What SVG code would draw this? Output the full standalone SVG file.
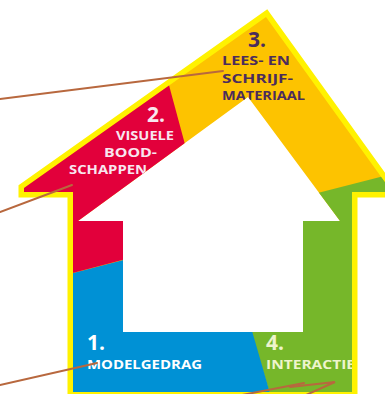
<svg xmlns="http://www.w3.org/2000/svg" width="385" height="394" viewBox="0 0 385 394">
<style>
.lbl{font-family:"Open Sans","Liberation Sans",sans-serif;font-weight:bold;}
.num{font-size:21px;}
.cap{font-size:13px;}
.dark{fill:#4B2C5C;}
.wt{fill:#FFFFFF;}
.pk{fill:#F8E6EF;}
.gy{fill:#EEF4CC;}
.con{stroke:#B8683E;stroke-width:2;fill:none;stroke-linecap:round;}
</style>
<defs>
<clipPath id="house" clip-rule="evenodd">
<path clip-rule="evenodd" d="M266,17 L392,192 L352,192 L352,392 L73,392 L73,192 L24,192 L24,188 Z M248,97 L78,221 L123,221 L123,332 L303,332 L303,221 L340,221 Z"/>
</clipPath>
</defs>
<rect width="385" height="394" fill="#FFFFFF"/>
<g id="border">
<path d="M266,17 L392,192 L352,192 L352,392 L73,392 L73,192 L24,192 L24,188 Z" fill="none" stroke="#FFF200" stroke-width="11" stroke-linejoin="miter" stroke-miterlimit="10"/>
</g>
<g clip-path="url(#house)">
<g id="seg3"><rect width="400" height="400" fill="#FDC300"/></g>
<g id="seg4"><polygon points="224,217 400,172 400,400 272,400 220,230" fill="#76B72A"/></g>
<g id="seg1"><polygon points="0,292 224,234 272,400 0,400" fill="#0091D5"/></g>
<g id="seg2"><polygon points="0,0 146,0 210,237 0,292" fill="#E2003B"/></g>
<g id="label3" class="lbl dark">
<text x="248" y="47" class="num">3.</text>
<text x="222" y="65" class="cap" textLength="68" lengthAdjust="spacingAndGlyphs">LEES- EN</text>
<text x="222" y="83" class="cap" textLength="71" lengthAdjust="spacingAndGlyphs">SCHRIJF-</text>
<text x="222" y="100" class="cap" textLength="83" lengthAdjust="spacingAndGlyphs">MATERIAAL</text>
</g>
<g id="label2" class="lbl pk">
<text x="147" y="122" class="num">2.</text>
<text x="116" y="140" class="cap" textLength="58" lengthAdjust="spacingAndGlyphs">VISUELE</text>
<text x="104" y="157" class="cap" textLength="53" lengthAdjust="spacingAndGlyphs">BOOD-</text>
<text x="69" y="174" class="cap" textLength="78" lengthAdjust="spacingAndGlyphs">SCHAPPEN</text>
</g>
<g id="label1" class="lbl wt">
<text x="87" y="350" class="num">1.</text>
<text x="87" y="369" class="cap" textLength="115" lengthAdjust="spacingAndGlyphs">MODELGEDRAG</text>
</g>
<g id="label4" class="lbl gy">
<text x="266" y="350" class="num">4.</text>
<text x="266" y="369" class="cap" textLength="89" lengthAdjust="spacingAndGlyphs">INTERACTIE</text>
</g>
</g>
<g id="connectors">
<line class="con" x1="0" y1="99" x2="223" y2="71"/>
<line class="con" x1="0" y1="212" x2="72" y2="185"/>
<line class="con" x1="0" y1="385" x2="97" y2="363"/>
<line class="con" x1="242" y1="395" x2="304" y2="383"/>
<polyline class="con" points="290,387 335,382 306,395"/>
</g>
</svg>
